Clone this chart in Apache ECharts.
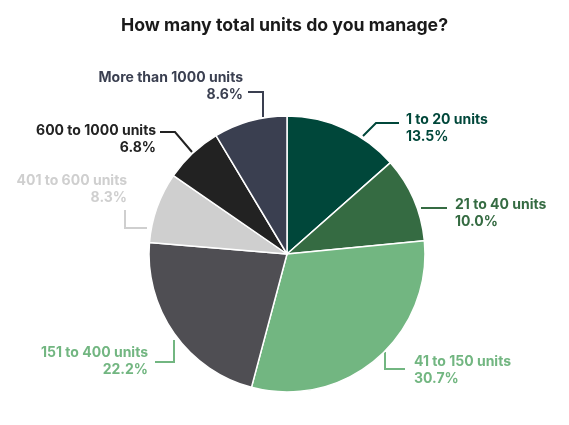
<!DOCTYPE html>
<html>
<head>
<meta charset="utf-8">
<script src="https://cdn.jsdelivr.net/npm/echarts@6/dist/echarts.min.js"></script>
<style>
  html, body { margin: 0; padding: 0; background: #fff; }
  #main { width: 569px; height: 425px; }
</style>
</head>
<body>
<div id="main"></div>
<script>
var categories = ["1 to 20 units", "21 to 40 units", "41 to 150 units", "151 to 400 units",
  "401 to 600 units", "600 to 1000 units", "More than 1000 units"];
var shares = [13.5, 10.0, 30.7, 22.2, 8.3, 6.8, 8.6]; // %
var sliceColors = ["#00473a", "#356b42", "#72b681", "#4f4e53", "#cfcfcf", "#222222", "#3a3f50"];
var labelColors = ["#00473a", "#356b42", "#72b681", "#72b681", "#cfcfcf", "#222222", "#3a3f50"];

// label block: x (left or right edge), y (middle of the two lines)
var labelSpots = [
  { x: 406, y: 128, align: "left" },
  { x: 455, y: 213, align: "left" },
  { x: 414, y: 370, align: "left" },
  { x: 148, y: 361, align: "right" },
  { x: 127, y: 189, align: "right" },
  { x: 156, y: 139, align: "right" },
  { x: 243, y: 86, align: "right" }
];
// elbow guide lines from label to slice
var guides = [
  [[399, 123], [376, 123], [363, 136]],
  [[447, 208], [421, 208]],
  [[405, 369], [385, 369], [385, 352]],
  [[155, 362], [174, 362], [174, 340]],
  [[125, 210], [125, 228], [147, 228]],
  [[160, 132], [175, 132], [192, 152]],
  [[248, 92], [263, 92], [263, 117]]
];

var myChart = echarts.init(document.getElementById("main"));

var seriesData = [];
for (var i = 0; i < categories.length; i++) {
  seriesData.push({
    name: categories[i],
    value: shares[i],
    itemStyle: { color: sliceColors[i] },
    label: { color: labelColors[i] },
    labelLine: { lineStyle: { color: labelColors[i] } }
  });
}

var option = {
  backgroundColor: "#fff",
  title: {
    text: "How many total units do you manage?",
    left: "center",
    top: 12,
    textStyle: {
      fontFamily: "Inter",
      fontWeight: "bold",
      fontSize: 17.7,
      color: "#1a1a1a"
    }
  },
  series: [{
    type: "pie",
    center: [287, 254],
    radius: 138,
    startAngle: 90,
    clockwise: true,
    animation: false,
    itemStyle: {
      borderColor: "#fff",
      borderWidth: 1.5
    },
    label: {
      show: true,
      overflow: "none",
      fontFamily: "Inter",
      fontWeight: "bold",
      fontSize: 14,
      lineHeight: 17,
      formatter: function (params) {
        return params.name + "\n" + params.value.toFixed(1) + "%";
      }
    },
    labelLine: {
      show: true,
      lineStyle: { width: 2 }
    },
    labelLayout: function (params) {
      var s = labelSpots[params.dataIndex];
      return {
        x: s.x,
        y: s.y,
        align: s.align,
        verticalAlign: "middle",
        labelLinePoints: guides[params.dataIndex]
      };
    },
    data: seriesData
  }]
};
myChart.setOption(option);
</script>
</body>
</html>
